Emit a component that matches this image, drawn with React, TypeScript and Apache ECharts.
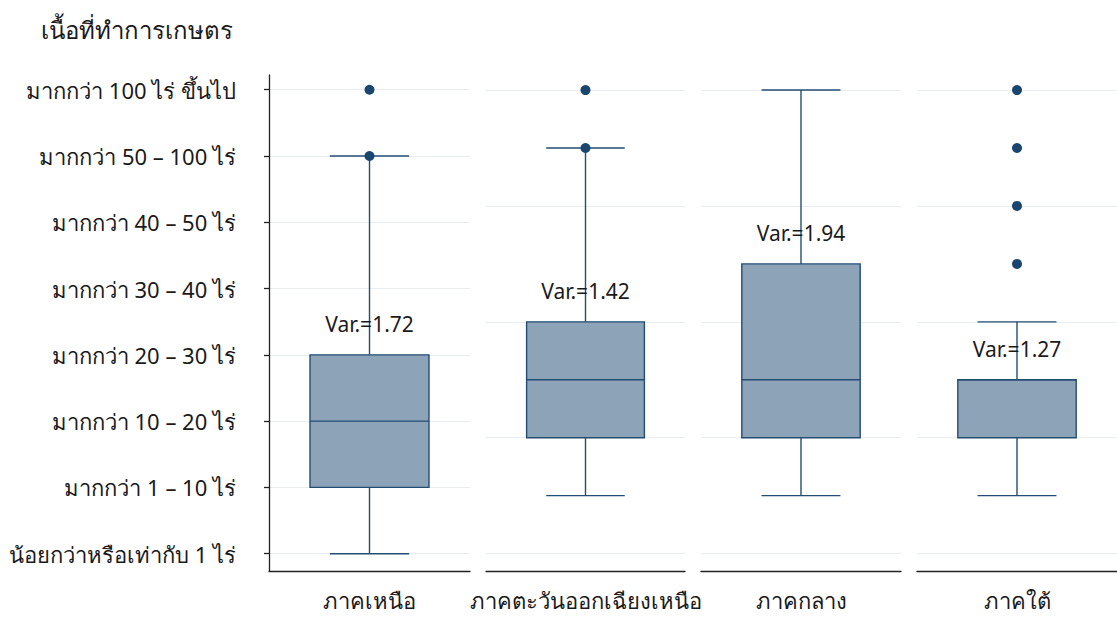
import React, { useEffect, useRef } from "react";
import * as echarts from "echarts";

const regions = ["ภาคเหนือ", "ภาคตะวันออกเฉียงเหนือ", "ภาคกลาง", "ภาคใต้"];
const levelLabels = [
  "น้อยกว่าหรือเท่ากับ 1 ไร่",
  "มากกว่า 1 – 10 ไร่",
  "มากกว่า 10 – 20 ไร่",
  "มากกว่า 20 – 30 ไร่",
  "มากกว่า 30 – 40 ไร่",
  "มากกว่า 40 – 50 ไร่",
  "มากกว่า 50 – 100 ไร่",
  "มากกว่า 100 ไร่ ขึ้นไป",
];
const whiskerLow = [1, 1, 1, 1];
const q1 = [2, 2, 2, 2];
const median = [3, 3, 3, 3];
const q3 = [4, 4, 5, 3];
const whiskerHigh = [7, 7, 8, 4];
const outliers = [[8, 7], [8, 7], [], [8, 7, 6, 5]];
const variance = ["1.72", "1.42", "1.94", "1.27"];
const panelTicks = [
  [1, 2, 3, 4, 5, 6, 7, 8],
  [0, 2, 4, 6, 8],
  [0, 2, 4, 6, 8],
  [0, 2, 4, 6, 8],
];
const panelRange = [
  [0.739, 8.222],
  [-0.3, 8.26],
  [-0.3, 8.26],
  [-0.3, 8.26],
];

const FONT = "'Noto Sans', sans-serif";
const TEXT = "#1a1a1a";
const STROKE = "#244d74";
const FILL = "#8ca3b8";
const DOT = "#1a456e";
const GRID = "#e7edf1";

const panels = [
  { left: 269, width: 201 },
  { left: 486, width: 199 },
  { left: 701, width: 200 },
  { left: 917, width: 200 },
];

export default function App() {
  const ref = useRef<HTMLDivElement>(null);
  useEffect(() => {
    if (!ref.current) return;
    const chart = echarts.init(ref.current, undefined, { renderer: "svg" });

    const grid = panels.map((p) => ({ left: p.left, width: p.width, top: 75, height: 496 }));
    const xAxis = regions.map((r, i) => ({
      type: "category",
      gridIndex: i,
      data: [r],
      axisLine: { show: true, onZero: false, lineStyle: { color: "#222", width: 1.3 } },
      axisTick: { show: false },
      axisLabel: { color: TEXT, fontSize: 22, lineHeight: 22, fontFamily: FONT, margin: 18 },
      splitLine: { show: false },
    }));
    const yAxis = regions.map((r, i) => ({
      type: "value",
      gridIndex: i,
      min: panelRange[i][0],
      max: panelRange[i][1],
      axisLine: { show: i === 0, onZero: false, lineStyle: { color: "#222", width: 1.3 } },
      axisTick: {
        show: i === 0,
        length: 5,
        customValues: panelTicks[i],
        lineStyle: { color: "#222", width: 1.3 },
      },
      axisLabel: {
        show: i === 0,
        customValues: panelTicks[i],
        margin: 33,
        color: TEXT,
        fontSize: 22,
        fontFamily: FONT,
        formatter: (v: number) => levelLabels[Math.round(v) - 1] ?? "",
      },
      splitLine: { show: true, lineStyle: { color: GRID, width: 1 } },
    }));

    const boxSeries = regions.map((r, i) => ({
      type: "custom",
      xAxisIndex: i,
      yAxisIndex: i,
      encode: { x: 0, y: [1, 2, 3, 4, 5] },
      data: [[0, whiskerLow[i], q1[i], median[i], q3[i], whiskerHigh[i]]],
      renderItem: (params: any, api: any) => {
        const pLow = api.coord([0, api.value(1)]);
        const pQ1 = api.coord([0, api.value(2)]);
        const pMed = api.coord([0, api.value(3)]);
        const pQ3 = api.coord([0, api.value(4)]);
        const pHigh = api.coord([0, api.value(5)]);
        const band = api.size([1, 0])[0];
        const cx = pMed[0];
        const bw = band * 0.592;
        const cw = bw * (2 / 3);
        const ls = { stroke: STROKE, lineWidth: 1.4, fill: null };
        return {
          type: "group",
          children: [
            { type: "line", shape: { x1: cx, y1: pHigh[1], x2: cx, y2: pQ3[1] }, style: ls },
            { type: "line", shape: { x1: cx, y1: pQ1[1], x2: cx, y2: pLow[1] }, style: ls },
            { type: "line", shape: { x1: cx - cw / 2, y1: pHigh[1], x2: cx + cw / 2, y2: pHigh[1] }, style: ls },
            { type: "line", shape: { x1: cx - cw / 2, y1: pLow[1], x2: cx + cw / 2, y2: pLow[1] }, style: ls },
            {
              type: "rect",
              shape: { x: cx - bw / 2, y: pQ3[1], width: bw, height: pQ1[1] - pQ3[1] },
              style: { fill: FILL, stroke: STROKE, lineWidth: 1.4 },
            },
            { type: "line", shape: { x1: cx - bw / 2, y1: pMed[1], x2: cx + bw / 2, y2: pMed[1] }, style: ls },
            {
              type: "text",
              x: cx,
              y: pQ3[1] - 31,
              style: {
                text: "Var.=" + variance[i],
                textAlign: "center",
                textVerticalAlign: "middle",
                fill: TEXT,
                fontSize: 21,
                fontFamily: FONT,
              },
            },
          ],
        };
      },
    }));

    const outlierSeries = regions.map((r, i) => ({
      type: "scatter",
      xAxisIndex: i,
      yAxisIndex: i,
      symbolSize: 10,
      itemStyle: { color: DOT, opacity: 1 },
      data: outliers[i].map((v) => [0, v]),
      z: 5,
    }));

    chart.setOption({
      animation: false,
      backgroundColor: "#ffffff",
      title: {
        text: "เนื้อที่ทำการเกษตร",
        left: 36,
        top: 12,
        textStyle: { color: TEXT, fontSize: 24, fontWeight: 500, fontFamily: FONT },
      },
      grid,
      xAxis,
      yAxis,
      series: [...boxSeries, ...outlierSeries],
    });
    return () => chart.dispose();
  }, []);
  return (
    <div
      ref={ref}
      style={{ position: "absolute", left: 0, top: 0, width: 1117, height: 617 }}
    />
  );
}
